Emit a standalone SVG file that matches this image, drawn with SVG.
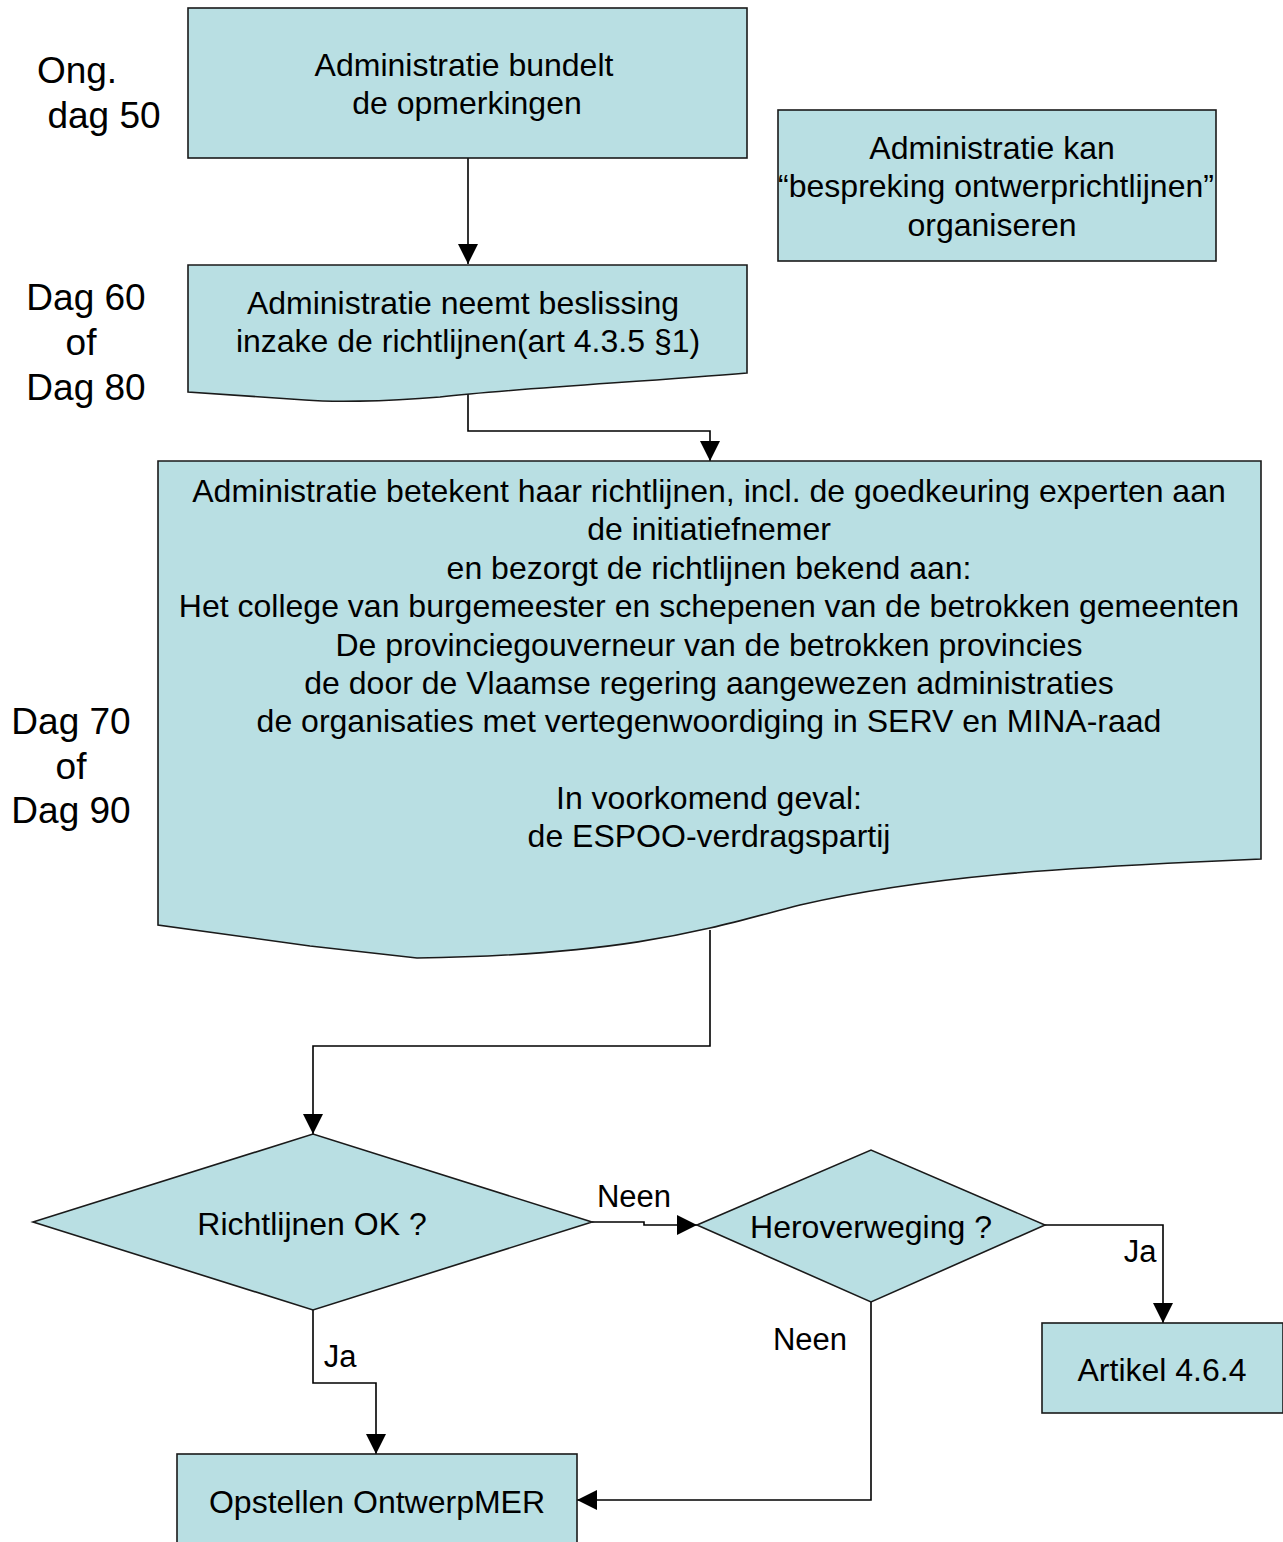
<svg xmlns="http://www.w3.org/2000/svg" width="1283" height="1542" viewBox="0 0 1283 1542">
<defs>
<marker id="arr" markerUnits="userSpaceOnUse" markerWidth="20" markerHeight="20" viewBox="0 0 20 20" refX="20" refY="10" orient="auto">
<path d="M0,0 L20,10 L0,20 Z" fill="#000"/>
</marker>
<style>
.n{fill:#B9DFE3;stroke:#1a1a1a;stroke-width:1.6}
.t{font-family:"Liberation Sans",Arial,sans-serif;font-size:32px;fill:#000;text-anchor:middle}
.d{font-family:"Liberation Sans",Arial,sans-serif;font-size:37px;fill:#000;text-anchor:middle}
.l{font-size:31px}
.c{fill:none;stroke:#000;stroke-width:1.6}
</style>
</defs>
<rect width="1283" height="1542" fill="#fff"/>
<g id="labels">
<text class="d" x="77" y="83">Ong.</text>
<text class="d" x="104" y="128">dag 50</text>
<text class="d" x="86" y="310">Dag 60</text>
<text class="d" x="81" y="355">of</text>
<text class="d" x="86" y="400">Dag 80</text>
<text class="d" x="71" y="734">Dag 70</text>
<text class="d" x="71" y="779">of</text>
<text class="d" x="71" y="823">Dag 90</text>
</g>
<g id="connectors">
<path class="c" d="M468,158 V264" marker-end="url(#arr)"/>
<path class="c" d="M468,393 V431 H710 V461" marker-end="url(#arr)"/>
<path class="c" d="M710,930 V1046 H313 V1134" marker-end="url(#arr)"/>
<path class="c" d="M592,1222 H644 V1225 H697" marker-end="url(#arr)"/>
<path class="c" d="M1045,1225 H1163 V1323" marker-end="url(#arr)"/>
<path class="c" d="M871,1302 V1500 H577" marker-end="url(#arr)"/>
<path class="c" d="M313,1310 V1383 H376 V1454" marker-end="url(#arr)"/>
<text class="t l" x="634" y="1207">Neen</text>
<text class="t l" x="1140" y="1262">Ja</text>
<text class="t l" x="810" y="1350">Neen</text>
<text class="t l" x="340" y="1367">Ja</text>
</g>
<g id="node-bundelt">
<rect class="n" x="188" y="8" width="559" height="150"/>
<text class="t" x="464" y="76">Administratie bundelt</text>
<text class="t" x="467" y="114">de opmerkingen</text>
</g>
<g id="node-bespreking">
<rect class="n" x="778" y="110" width="438" height="151"/>
<text class="t" x="992" y="159">Administratie kan</text>
<text class="t" x="996" y="197">“bespreking ontwerprichtlijnen”</text>
<text class="t" x="992" y="236">organiseren</text>
</g>
<g id="node-beslissing">
<path class="n" d="M188,265 H747 V373 C640,382 520,388 440,397 C380,402 330,402 305,400 L188,392 Z"/>
<text class="t" x="463" y="314">Administratie neemt beslissing</text>
<text class="t" x="468" y="352">inzake de richtlijnen(art 4.3.5 §1)</text>
</g>
<g id="node-betekent">
<path class="n" d="M158,461 H1261 V859 L1195,862 C1070,868 930,875 800,905 C720,925 640,955 417,958 L310,946 L158,925 Z"/>
<g class="t">
<text x="709" y="502">Administratie betekent haar richtlijnen, incl. de goedkeuring experten aan</text>
<text x="709" y="540">de initiatiefnemer</text>
<text x="709" y="579">en bezorgt de richtlijnen bekend aan:</text>
<text x="709" y="617">Het college van burgemeester en schepenen van de betrokken gemeenten</text>
<text x="709" y="656">De provinciegouverneur van de betrokken provincies</text>
<text x="709" y="694">de door de Vlaamse regering aangewezen administraties</text>
<text x="709" y="732">de organisaties met vertegenwoordiging in SERV en MINA-raad</text>
<text x="709" y="809">In voorkomend geval:</text>
<text x="709" y="847">de ESPOO-verdragspartij</text>
</g>
</g>
<g id="node-richtlijnen-ok">
<polygon class="n" points="33,1222 313,1134 592,1222 313,1310"/>
<text class="t" x="312" y="1235">Richtlijnen OK ?</text>
</g>
<g id="node-heroverweging">
<polygon class="n" points="697,1225 871,1150 1045,1225 871,1302"/>
<text class="t" x="871" y="1238">Heroverweging ?</text>
</g>
<g id="node-artikel">
<rect class="n" x="1042" y="1323" width="241" height="90"/>
<text class="t" x="1162" y="1381">Artikel 4.6.4</text>
</g>
<g id="node-opstellen">
<rect class="n" x="177" y="1454" width="400" height="100"/>
<text class="t" x="377" y="1513">Opstellen OntwerpMER</text>
</g>
</svg>
